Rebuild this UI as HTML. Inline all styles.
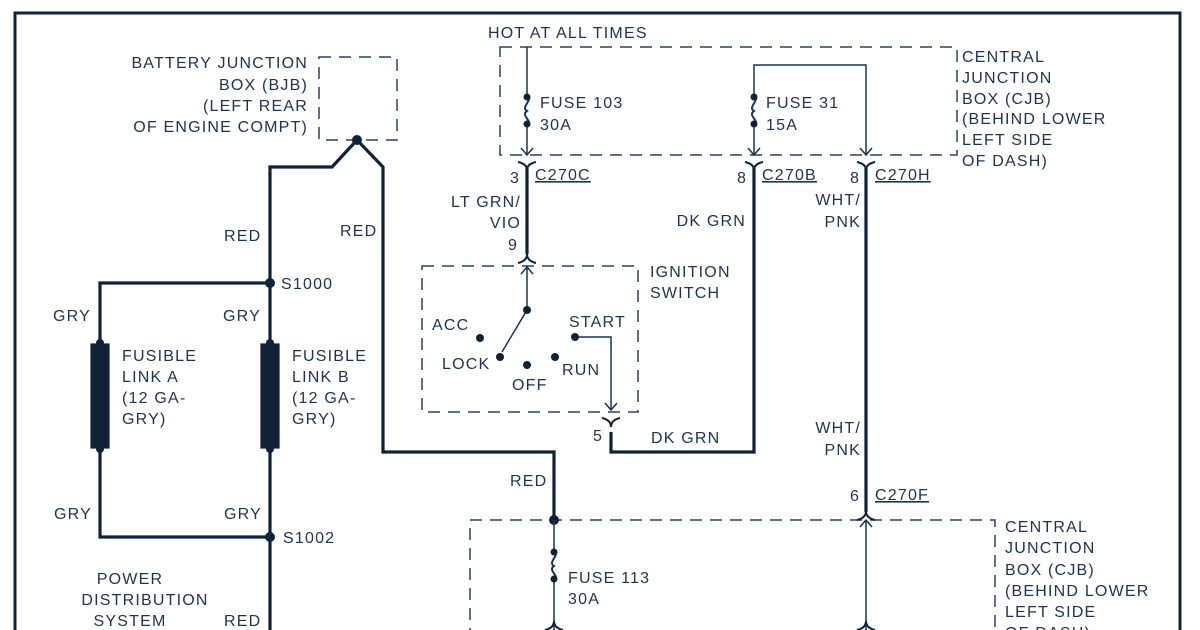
<!DOCTYPE html>
<html><head><meta charset="utf-8"><style>
html,body{margin:0;padding:0;background:#fff;}
svg{display:block;}
text{font-family:"Liberation Sans",sans-serif;font-size:16px;fill:#1c3352;letter-spacing:1.2px;}
</style></head><body>
<svg width="1200" height="630" viewBox="0 0 1200 630" xmlns="http://www.w3.org/2000/svg">
<rect x="0" y="0" width="1200" height="630" fill="#fff"/>
<path d="M15 640 V13 H1180 V640" fill="none" stroke="#0f2238" stroke-width="3"/>
<g fill="none" stroke="#2a4260" stroke-width="1.5" stroke-dasharray="12,8">
<rect x="319" y="57" width="78" height="83"/>
<rect x="500" y="47" width="457" height="108"/>
<rect x="422" y="266" width="216" height="146"/>
<path d="M470 640 V520 H995 V640"/>
</g>
<g fill="none" stroke="#0f2238" stroke-width="3.2">
<path d="M357 140 L332 167 H270 V630"/>
<path d="M357 140 L383 167 V452 H554 V520"/>
<path d="M270 283 H100 V537 H270"/>
<rect x="92" y="345" width="16" height="102" fill="#0f2238"/>
<rect x="262" y="345" width="16" height="102" fill="#0f2238"/>
<path d="M527 168 V254"/>
<path d="M754 168 V452 H611 V432"/>
<path d="M866 168 V512"/>
</g>
<g fill="#0f2238">
<circle cx="357" cy="140" r="5"/>
<circle cx="270" cy="283" r="5"/>
<circle cx="270" cy="537" r="5"/>
<circle cx="554" cy="520" r="5"/>
<circle cx="100" cy="343" r="4"/><circle cx="100" cy="449" r="4"/>
<circle cx="270" cy="343" r="4"/><circle cx="270" cy="449" r="4"/>
</g>
<g fill="none" stroke="#1c3352" stroke-width="1.5">
<path d="M527 47 V95 M527 126 V155"/>
<path d="M527 95 c7 5 -7 12 0 16 c-7 5 7 10 0 15" stroke-width="2"/>
<path d="M521 148 L527 155 L533 148"/>
<path d="M754 95 V65 H866 V155 M754 126 V155"/>
<path d="M754 95 c7 5 -7 12 0 16 c-7 5 7 10 0 15" stroke-width="2"/>
<path d="M748 148 L754 155 L760 148 M860 148 L866 155 L872 148"/>
<path d="M527 266 V310 L502 352"/>
<path d="M575 337 H611 V410 M605 403 L611 410 L617 403"/>
<path d="M521 274 L527 267 L533 274"/>
<path d="M554 520 V550 M554 581 V630"/>
<path d="M554 550 c7 5 -7 12 0 16 c-7 5 7 10 0 15" stroke-width="2"/>
<path d="M866 520 V630 M860 527 L866 520 L872 527"/>
</g>
<g fill="none" stroke="#0f2238" stroke-width="2">
<path d="M518 162 q9 2 9 8 q0 -6 9 -8"/>
<path d="M745 162 q9 2 9 8 q0 -6 9 -8"/>
<path d="M857 162 q9 2 9 8 q0 -6 9 -8"/>
<path d="M518 263 q9 -2 9 -9 q0 7 9 9"/>
<path d="M602 418 q9 2 9 9 q0 -7 9 -9"/>
<path d="M857 520 q9 -2 9 -9 q0 7 9 9"/>
<path d="M545 630 q9 -2 9 -9 q0 7 9 9"/>
<path d="M857 630 q9 -2 9 -9 q0 7 9 9"/>
</g>
<g fill="#0f2238">
<circle cx="527" cy="97" r="3.5"/><circle cx="527" cy="124" r="3.5"/>
<circle cx="754" cy="97" r="3.5"/><circle cx="754" cy="124" r="3.5"/>
<circle cx="554" cy="552" r="3.5"/><circle cx="554" cy="579" r="3.5"/>
<circle cx="527" cy="310" r="4"/><circle cx="480" cy="338" r="4"/>
<circle cx="500" cy="357" r="4"/><circle cx="527" cy="365" r="4"/>
<circle cx="555" cy="357" r="4"/><circle cx="575" cy="337" r="4"/>
</g>
<g text-anchor="end">
<text x="308" y="68">BATTERY JUNCTION</text>
<text x="308" y="90">BOX (BJB)</text>
<text x="308" y="111">(LEFT REAR</text>
<text x="308" y="132">OF ENGINE COMPT)</text>
<text x="521" y="207">LT GRN/</text>
<text x="521" y="228">VIO</text>
<text x="746" y="226">DK GRN</text>
<text x="861" y="205">WHT/</text>
<text x="861" y="227">PNK</text>
<text x="861" y="433">WHT/</text>
<text x="861" y="455">PNK</text>
</g>
<text x="488" y="38">HOT AT ALL TIMES</text>
<text x="962" y="62">CENTRAL</text>
<text x="962" y="83">JUNCTION</text>
<text x="962" y="104">BOX (CJB)</text>
<text x="962" y="124">(BEHIND LOWER</text>
<text x="962" y="145">LEFT SIDE</text>
<text x="962" y="166">OF DASH)</text>
<text x="540" y="108">FUSE 103</text>
<text x="540" y="130">30A</text>
<text x="766" y="108">FUSE 31</text>
<text x="766" y="130">15A</text>
<text x="510" y="183">3</text>
<text x="535" y="180" text-decoration="underline">C270C</text>
<text x="737" y="183">8</text>
<text x="762" y="180" text-decoration="underline">C270B</text>
<text x="850" y="183">8</text>
<text x="875" y="180" text-decoration="underline">C270H</text>
<text x="508" y="250">9</text>
<text x="650" y="277">IGNITION</text>
<text x="650" y="298">SWITCH</text>
<text x="432" y="330">ACC</text>
<text x="569" y="327">START</text>
<text x="442" y="369">LOCK</text>
<text x="512" y="390">OFF</text>
<text x="562" y="375">RUN</text>
<text x="593" y="441">5</text>
<text x="651" y="443">DK GRN</text>
<text x="850" y="501">6</text>
<text x="875" y="500" text-decoration="underline">C270F</text>
<text x="510" y="486">RED</text>
<text x="568" y="583">FUSE 113</text>
<text x="568" y="604">30A</text>
<text x="1005" y="532">CENTRAL</text>
<text x="1005" y="553">JUNCTION</text>
<text x="1005" y="575">BOX (CJB)</text>
<text x="1005" y="596">(BEHIND LOWER</text>
<text x="1005" y="617">LEFT SIDE</text>
<text x="1005" y="638">OF DASH)</text>
<text x="224" y="241">RED</text>
<text x="340" y="236">RED</text>
<text x="281" y="289">S1000</text>
<text x="53" y="321">GRY</text>
<text x="223" y="321">GRY</text>
<text x="122" y="361">FUSIBLE</text>
<text x="122" y="382">LINK A</text>
<text x="122" y="403">(12 GA-</text>
<text x="122" y="424">GRY)</text>
<text x="292" y="361">FUSIBLE</text>
<text x="292" y="382">LINK B</text>
<text x="292" y="403">(12 GA-</text>
<text x="292" y="424">GRY)</text>
<text x="54" y="519">GRY</text>
<text x="224" y="519">GRY</text>
<text x="283" y="543">S1002</text>
<text x="130" y="584" text-anchor="middle">POWER</text>
<text x="145" y="605" text-anchor="middle">DISTRIBUTION</text>
<text x="130" y="626" text-anchor="middle">SYSTEM</text>
<text x="224" y="626">RED</text>
</svg>
</body></html>
